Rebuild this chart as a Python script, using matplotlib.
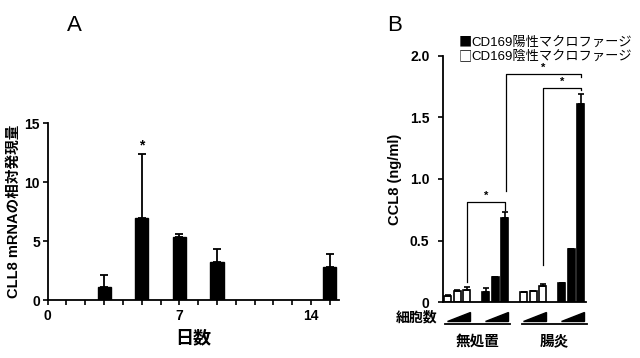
import matplotlib
matplotlib.use("Agg")
import matplotlib.pyplot as plt
import matplotlib.transforms as mtransforms
from matplotlib.patches import Polygon
from matplotlib.ticker import FixedLocator

plt.rcParams['font.family'] = ['Liberation Sans', 'Noto Sans CJK JP', 'DejaVu Sans']

# ---- Panel A data ----
days = [3, 5, 7, 9, 15]
mrna = [1.08, 7.0, 5.37, 3.2, 2.78]
mrna_err = [1.02, 5.4, 0.23, 1.1, 1.1]
a_xticks = [0, 7, 14]
a_yticks = [0, 5, 10, 15]

# ---- Panel B data ----
group_labels = ['無処置', '腸炎']
neg_naive = [0.05, 0.09, 0.10]
neg_naive_err = [0.004, 0.004, 0.02]
pos_naive = [0.084, 0.20, 0.685]
pos_naive_err = [0.026, 0.004, 0.045]
neg_colitis = [0.079, 0.087, 0.13]
neg_colitis_err = [0.004, 0.004, 0.02]
pos_colitis = [0.152, 0.43, 1.61]
pos_colitis_err = [0.004, 0.004, 0.08]
b_yticks = [0, 0.5, 1.0, 1.5, 2.0]
b_yticklabels = ['0', '0.5', '1.0', '1.5', '2.0']
legend_labels = ['CD169陽性マクロファージ', 'CD169陰性マクロファージ']

fig = plt.figure(figsize=(6.4, 3.58), dpi=100)

tick_font = dict(fontsize=10, fontweight='bold')

# ================= Panel A =================
axA = fig.add_axes([0.0745, 0.162, 0.4555, 0.4935])
axA.bar(days, mrna, width=0.7, color='black', edgecolor='black')
axA.errorbar(days, mrna, yerr=[[0]*len(mrna), mrna_err], fmt='none',
             ecolor='black', elinewidth=1.3, capsize=3, capthick=1.3)
axA.set_xlim(0, 15.5)
axA.set_ylim(0, 15)
axA.xaxis.set_major_locator(FixedLocator(a_xticks))
axA.xaxis.set_minor_locator(FixedLocator([i for i in range(1, 16) if i not in a_xticks]))
axA.yaxis.set_major_locator(FixedLocator(a_yticks))
axA.set_xticklabels([str(t) for t in a_xticks], **tick_font)
axA.set_yticklabels([str(t) for t in a_yticks], **tick_font)
axA.tick_params(axis='both', which='both', direction='out', length=3.5, width=1.2, pad=2)
axA.tick_params(axis='x', pad=3)
for s in ['top', 'right']:
    axA.spines[s].set_visible(False)
for s in ['left', 'bottom']:
    axA.spines[s].set_linewidth(1.3)
axA.set_xlabel('日数', fontsize=13, fontweight='bold', labelpad=5)
axA.set_ylabel('CLL8 mRNAの相対発現量', fontsize=10.5, fontweight='bold', labelpad=3)
axA.text(5, 13.1, '*', ha='center', va='center', fontsize=10, fontweight='bold')
fig.text(0.117, 0.93, 'A', fontsize=16, ha='center', va='center')

# ================= Panel B =================
axB = fig.add_axes([0.6917, 0.1564, 0.2233, 0.6872])
w = 0.72
groups = [
    (0, neg_naive, neg_naive_err, 'white'),
    (4, pos_naive, pos_naive_err, 'black'),
    (8, neg_colitis, neg_colitis_err, 'white'),
    (12, pos_colitis, pos_colitis_err, 'black'),
]
for start, vals, errs, col in groups:
    xs = [start + i for i in range(len(vals))]
    axB.bar(xs, vals, width=w, color=col, edgecolor='black', linewidth=1.2)
    axB.errorbar(xs, vals, yerr=[[0]*len(vals), errs], fmt='none',
                 ecolor='black', elinewidth=1.2, capsize=2.5, capthick=1.2)
axB.set_xlim(-0.55, 14.5)
axB.set_ylim(0, 2.0)
axB.set_xticks([])
axB.yaxis.set_major_locator(FixedLocator(b_yticks))
axB.set_yticklabels(b_yticklabels, **tick_font)
axB.tick_params(axis='y', direction='out', length=3.5, width=1.2, pad=6)
for s in ['top', 'right']:
    axB.spines[s].set_visible(False)
for s in ['left', 'bottom']:
    axB.spines[s].set_linewidth(1.3)
axB.set_ylabel('CCL8 (ng/ml)', fontsize=10.5, fontweight='bold', labelpad=6)

# significance brackets (data coordinates)
def bracket(x1, x2, y, y1, y2, star_x):
    axB.plot([x1, x1, x2, x2], [y1, y, y, y2], color='black', lw=0.9, clip_on=False)
    axB.text(star_x, y + 0.01, '*', ha='center', va='bottom', fontsize=8, fontweight='bold')

bracket(2, 6, 0.81, 0.16, 0.75, 4)
bracket(10, 14, 1.74, 0.30, 1.72, 12)
bracket(6.1, 14, 1.85, 0.905, 1.83, 10)

# cell-number wedges and group lines below the axis
trans = mtransforms.blended_transform_factory(axB.transData, axB.transAxes)
for start in [0, 4, 8, 12]:
    tri = Polygon([[start - 0.1, -0.077], [start + 2.3, -0.077], [start + 2.3, -0.039]],
                  closed=True, facecolor='black', edgecolor='black', transform=trans,
                  clip_on=False)
    axB.add_patch(tri)
for (x1, x2), lab in zip([(-0.28, 6.55), (7.77, 14.63)], group_labels):
    axB.plot([x1, x2], [-0.091, -0.091], color='black', lw=1.3, transform=trans, clip_on=False)
    axB.text((x1 + x2) / 2, -0.16, lab, transform=trans, ha='center', va='center',
             fontsize=10.5, fontweight='bold')
axB.text(-1.1, -0.062, '細胞数', transform=trans, ha='right', va='center',
         fontsize=10, fontweight='bold')

# legend
sq_font = ['Noto Sans CJK JP', 'DejaVu Sans']
fig.text(459 / 640, 1 - 43 / 358, '■', fontsize=9.5, family=sq_font, ha='left', va='center')
fig.text(459 / 640, 1 - 57 / 358, '□', fontsize=9.5, family=sq_font, ha='left', va='center')
fig.text(471 / 640, 1 - 43 / 358, legend_labels[0], fontsize=9.5, ha='left', va='center')
fig.text(471 / 640, 1 - 57 / 358, legend_labels[1], fontsize=9.5, ha='left', va='center')

fig.text(395 / 640, 0.93, 'B', fontsize=16, ha='center', va='center')

fig.savefig('out.png', dpi=100)
